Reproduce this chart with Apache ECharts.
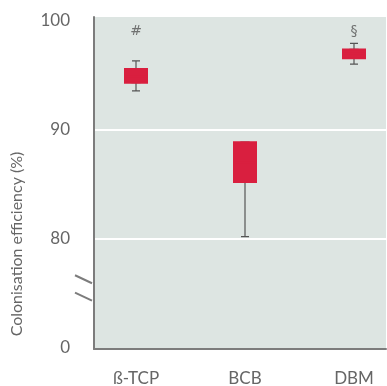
<!DOCTYPE html>
<html><head><meta charset="utf-8">
<script src="https://cdn.jsdelivr.net/npm/echarts@6/dist/echarts.min.js"></script>
<style>html,body{margin:0;padding:0;background:#fff}#c{width:387px;height:386px}</style>
</head><body><div id="c"></div>
<script>
const categories = ['ß-TCP', 'BCB', 'DBM'];
const whiskerLow = [93.55, 80.2, 96.0];
const q1 = [94.3, 85.2, 96.55];
const median = [94.9, 87.0, 96.95];
const q3 = [95.55, 88.85, 97.35];
const whiskerHigh = [96.3, 88.85, 97.9];
const annotations = ['#', '', '§'];
const annotationY = [99.0, null, 99.0];
// axis is broken: the bottom tick (drawn at 70 on the scale) is labelled 0
const yTickValues = [70, 80, 90, 100];
const yTickLabels = ['0', '80', '90', '100'];
const axisBreakValues = [76.3, 74.7];

const FONT = 'Lato';
const RED = '#d91f3f';
const GREY = '#7c7c7c';
const TXT = '#666';

const chart = echarts.init(document.getElementById('c'), null, {renderer: 'canvas'});

const whiskerData = categories.map((c, i) => [whiskerLow[i], q1[i], median[i], q3[i], whiskerHigh[i]]);
const boxData = categories.map((c, i) => [q1[i], q1[i], median[i], q3[i], q3[i]]);
const annData = categories.map((c, i) => annotations[i] ? {value: [c, annotationY[i]], label: {formatter: annotations[i]}} : null).filter(Boolean);

chart.setOption({
  animation: false,
  grid: [
    {left: 94, right: 1, top: 17, bottom: 37, show: true, backgroundColor: '#dde5e2', borderWidth: 0, z: 0, outerBoundsMode: 'none'},
    {left: 81.5, width: 327, top: 20.5, bottom: 38, outerBoundsMode: 'none'}
  ],
  xAxis: [
    {gridIndex: 0, type: 'value', min: 0, max: 1, axisLine: {show: true, onZero: false, lineStyle: {color: GREY, width: 2}},
     axisTick: {show: false}, axisLabel: {show: false}, splitLine: {show: false}},
    {gridIndex: 1, type: 'category', data: categories, axisLine: {show: false}, axisTick: {show: false},
     axisLabel: {interval: 0, margin: 22, color: TXT, fontFamily: FONT, fontSize: 17}},
    {gridIndex: 1, type: 'category', data: categories, show: false}
  ],
  yAxis: [
    {gridIndex: 0, type: 'value', min: 0, max: 1, offset: 10, z: 5,
     axisLine: {show: true, lineStyle: {color: GREY, width: 2}}, axisTick: {show: false}, axisLabel: {show: false}, splitLine: {show: false}},
    {gridIndex: 1, type: 'value', min: yTickValues[0], max: yTickValues[yTickValues.length - 1], interval: 10, z: 1,
     axisLine: {show: false}, axisTick: {show: false},
     axisLabel: {margin: 11.5, color: TXT, fontFamily: FONT, fontSize: 17,
       formatter: v => { const k = yTickValues.indexOf(v); return k >= 0 ? yTickLabels[k] : ''; }},
     splitLine: {show: true, showMinLine: false, showMaxLine: false, lineStyle: {color: '#ffffff', width: 2}}}
  ],
  series: [
    {type: 'boxplot', xAxisIndex: 1, yAxisIndex: 1, data: whiskerData, boxWidth: [8, 8],
     itemStyle: {color: 'rgba(0,0,0,0)', borderColor: '#555', borderWidth: 1.2}, emphasis: {disabled: true}, z: 2},
    {type: 'boxplot', xAxisIndex: 2, yAxisIndex: 1, data: boxData, boxWidth: [22, 22],
     itemStyle: {color: RED, borderColor: RED, borderWidth: 2}, emphasis: {disabled: true}, z: 3},
    {type: 'scatter', xAxisIndex: 1, yAxisIndex: 1, data: annData, symbolSize: 0, z: 4,
     label: {show: true, position: 'inside', color: '#555', fontFamily: 'DejaVu Sans', fontSize: 14}}
  ]
});

// y-axis title and axis-break marks
const graphics = [{
  type: 'text', x: 17, y: 244, rotation: Math.PI / 2,
  style: {text: 'Colonisation efficiency (%)', fill: TXT, font: '16px Lato', align: 'center', verticalAlign: 'middle'}
}];
axisBreakValues.forEach(v => {
  const py = chart.convertToPixel({yAxisIndex: 1}, v);
  graphics.push({type: 'line', shape: {x1: 75, y1: py - 4, x2: 92, y2: py + 4}, style: {stroke: GREY, lineWidth: 2}, z: 10});
});
chart.setOption({graphic: graphics});
</script></body></html>
